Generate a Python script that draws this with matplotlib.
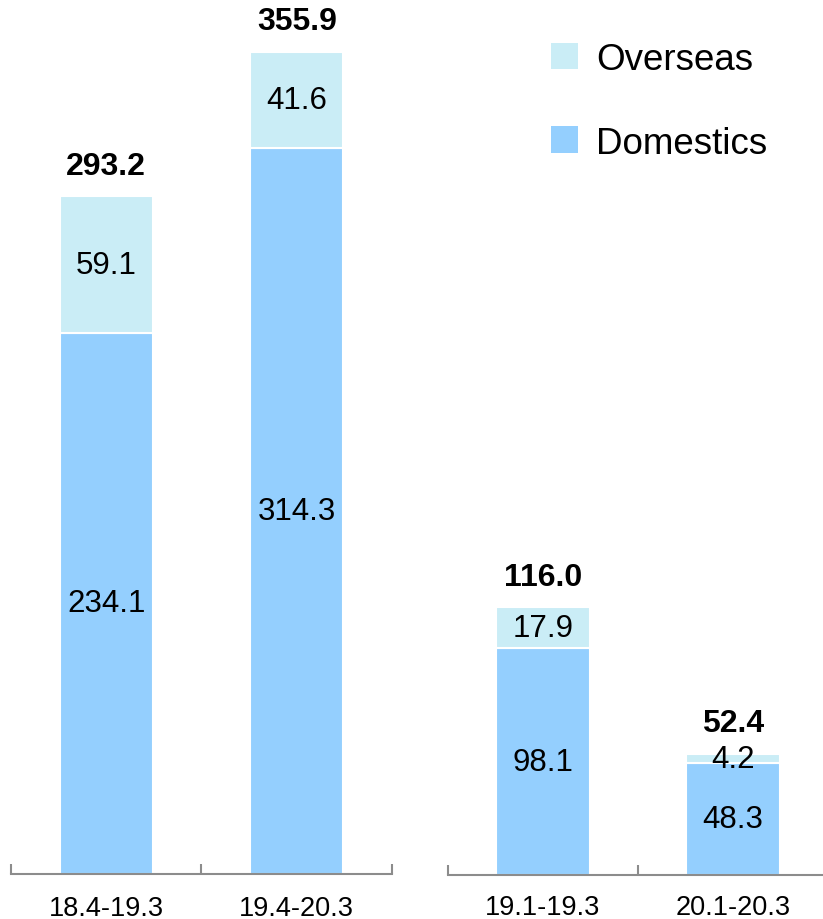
import matplotlib
matplotlib.use("Agg")
import matplotlib.pyplot as plt
from matplotlib.patches import Patch

plt.rcParams['font.family'] = ['Liberation Sans', 'DejaVu Sans']

# Annual figures (fiscal years)
annual_periods = ["18.4-19.3", "19.4-20.3"]
annual_domestic = [234.1, 314.3]
annual_overseas = [59.1, 41.6]
annual_total = [293.2, 355.9]

# Quarterly figures (Jan-Mar)
quarter_periods = ["19.1-19.3", "20.1-20.3"]
quarter_domestic = [98.1, 48.3]
quarter_overseas = [17.9, 4.2]
quarter_total = [116.0, 52.4]

DOM_COLOR = "#94CFFE"
OVS_COLOR = "#CAEDF6"
AXIS_COLOR = "#8C8C8C"

W, H = 823, 920
fig = plt.figure(figsize=(W / 100, H / 100), dpi=100)

YMAX = 370.0
PX_PER_UNIT = 2.311


def make_axes(left_px, right_px, base_px):
    height_px = YMAX * PX_PER_UNIT
    return fig.add_axes([left_px / W, (H - base_px) / H,
                         (right_px - left_px) / W, height_px / H])


def draw_group(ax, periods, domestic, overseas, total, label_pad):
    x = list(range(len(periods)))
    ax.bar(x, domestic, width=0.49, color=DOM_COLOR, edgecolor="white",
           linewidth=1.5, zorder=2)
    ax.bar(x, overseas, width=0.49, bottom=domestic, color=OVS_COLOR,
           edgecolor="white", linewidth=1.5, zorder=2)
    for xi, d, o, t in zip(x, domestic, overseas, total):
        ax.text(xi, d / 2, f"{d:.1f}", ha="center", va="center",
                fontsize=22.5, color="black", zorder=3)
        ax.text(xi, d + o / 2, f"{o:.1f}", ha="center", va="center",
                fontsize=22.5, color="black", zorder=3)
        ax.annotate(f"{t:.1f}", xy=(xi, d + o), xytext=(0, 11),
                    textcoords="offset points", ha="center", va="bottom",
                    fontsize=23, fontweight="bold", color="black")
    ax.set_xlim(-0.5, len(periods) - 0.5)
    ax.set_ylim(0, YMAX)
    ax.set_xticks(x)
    ax.set_xticklabels(periods, fontsize=19.5)
    ax.set_xticks([i - 0.5 for i in range(len(periods) + 1)], minor=True)
    ax.tick_params(axis="x", which="major", length=0, pad=label_pad)
    ax.tick_params(axis="x", which="minor", direction="in", length=7,
                   width=1.5, color=AXIS_COLOR)
    ax.set_yticks([])
    for side in ("left", "right", "top"):
        ax.spines[side].set_visible(False)
    ax.spines["bottom"].set_color(AXIS_COLOR)
    ax.spines["bottom"].set_linewidth(1.5)
    ax.patch.set_alpha(0)


ax1 = make_axes(11, 392, 875)
draw_group(ax1, annual_periods, annual_domestic, annual_overseas,
           annual_total, 15)

ax2 = make_axes(448, 828, 876)
draw_group(ax2, quarter_periods, quarter_domestic, quarter_overseas,
           quarter_total, 14)

handles = [Patch(facecolor=OVS_COLOR, edgecolor="none", label="Overseas"),
           Patch(facecolor=DOM_COLOR, edgecolor="none", label="Domestics")]
fig.legend(handles=handles, loc="upper left",
           bbox_to_anchor=(551 / W, 1 - 43 / H), frameon=False,
           fontsize=26.5, handlelength=0.73, handleheight=0.73,
           handletextpad=0.49, labelspacing=1.32, borderaxespad=0,
           borderpad=0)

fig.savefig("out.png", dpi=100)
